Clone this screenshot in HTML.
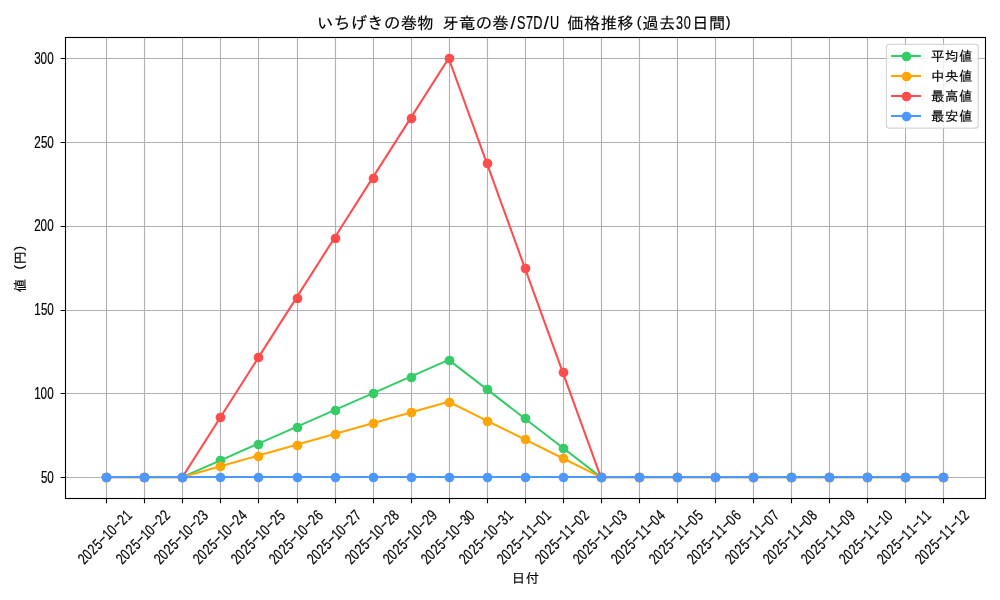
<!DOCTYPE html>
<html lang="ja"><head><meta charset="utf-8"><title>いちげきの巻物 牙竜の巻/S7D/U 価格推移(過去30日間)</title>
<style>
html,body{margin:0;padding:0;background:#fff;}
body{width:1000px;height:600px;overflow:hidden;}
svg{display:block;}
text{font-family:"Liberation Sans", "IPAGothic", sans-serif;fill:#000;}
text.j{stroke:#000;stroke-width:0.15;}
text.l{stroke:#000;stroke-width:0.2;}
</style></head><body>
<svg width="1000" height="600" viewBox="0 0 1000 600">
<rect width="1000" height="600" fill="#fff"/>
<defs><clipPath id="ax"><rect x="64.5" y="37.3" width="920.5" height="460.75"/></clipPath></defs>
<g clip-path="url(#ax)">
<g stroke="#b0b0b0" stroke-width="1.11" fill="none">
<path d="M106.5 37.3V498.05M144.5 37.3V498.05M182.5 37.3V498.05M220.5 37.3V498.05M258.5 37.3V498.05M297.5 37.3V498.05M335.5 37.3V498.05M373.5 37.3V498.05M411.5 37.3V498.05M449.5 37.3V498.05M487.5 37.3V498.05M525.5 37.3V498.05M563.5 37.3V498.05M601.5 37.3V498.05M639.5 37.3V498.05M677.5 37.3V498.05M715.5 37.3V498.05M753.5 37.3V498.05M791.5 37.3V498.05M829.5 37.3V498.05M867.5 37.3V498.05M905.5 37.3V498.05M943.5 37.3V498.05M64.5 477.5H985M64.5 393.5H985M64.5 310.5H985M64.5 226.5H985M64.5 142.5H985M64.5 58.5H985"/>
</g>
<polyline points="182.41,477.11 220.45,460.35 258.49,443.6 296.52,426.84 334.56,410.09 372.6,393.33 410.64,376.58 448.67,359.83 486.71,389.15 524.75,418.47 562.78,447.79 600.82,477.11" fill="none" stroke="#35CC68" stroke-width="2.08" stroke-linejoin="round" stroke-linecap="round"/>
<rect x="106.34" y="478" width="76.07" height="1" fill="#35CC68" fill-opacity="0.15"/>
<rect x="600.82" y="478" width="342.33" height="1" fill="#35CC68" fill-opacity="0.15"/>
<g fill="#35CC68"><circle cx="106.5" cy="477.5" r="4.86"/><circle cx="144.5" cy="477.5" r="4.86"/><circle cx="182.5" cy="477.5" r="4.86"/><circle cx="220.5" cy="460.5" r="4.86"/><circle cx="258.5" cy="444.5" r="4.86"/><circle cx="297.5" cy="427.5" r="4.86"/><circle cx="335.5" cy="410.5" r="4.86"/><circle cx="373.5" cy="393.5" r="4.86"/><circle cx="411.5" cy="377.5" r="4.86"/><circle cx="449.5" cy="360.5" r="4.86"/><circle cx="487.5" cy="389.5" r="4.86"/><circle cx="525.5" cy="418.5" r="4.86"/><circle cx="563.5" cy="448.5" r="4.86"/><circle cx="601.5" cy="477.5" r="4.86"/><circle cx="639.5" cy="477.5" r="4.86"/><circle cx="677.5" cy="477.5" r="4.86"/><circle cx="715.5" cy="477.5" r="4.86"/><circle cx="753.5" cy="477.5" r="4.86"/><circle cx="791.5" cy="477.5" r="4.86"/><circle cx="829.5" cy="477.5" r="4.86"/><circle cx="867.5" cy="477.5" r="4.86"/><circle cx="905.5" cy="477.5" r="4.86"/><circle cx="943.5" cy="477.5" r="4.86"/></g>
<polyline points="182.41,477.11 220.45,466.34 258.49,455.57 296.52,444.79 334.56,434.02 372.6,423.25 410.64,412.48 448.67,401.71 486.71,420.56 524.75,439.41 562.78,458.26 600.82,477.11" fill="none" stroke="#FFA500" stroke-width="2.08" stroke-linejoin="round" stroke-linecap="round"/>
<rect x="106.34" y="478" width="76.07" height="1" fill="#FFA500" fill-opacity="0.15"/>
<rect x="600.82" y="478" width="342.33" height="1" fill="#FFA500" fill-opacity="0.15"/>
<g fill="#FFA500"><circle cx="106.5" cy="477.5" r="4.86"/><circle cx="144.5" cy="477.5" r="4.86"/><circle cx="182.5" cy="477.5" r="4.86"/><circle cx="220.5" cy="466.5" r="4.86"/><circle cx="258.5" cy="456.5" r="4.86"/><circle cx="297.5" cy="445.5" r="4.86"/><circle cx="335.5" cy="434.5" r="4.86"/><circle cx="373.5" cy="423.5" r="4.86"/><circle cx="411.5" cy="412.5" r="4.86"/><circle cx="449.5" cy="402.5" r="4.86"/><circle cx="487.5" cy="421.5" r="4.86"/><circle cx="525.5" cy="439.5" r="4.86"/><circle cx="563.5" cy="458.5" r="4.86"/><circle cx="601.5" cy="477.5" r="4.86"/><circle cx="639.5" cy="477.5" r="4.86"/><circle cx="677.5" cy="477.5" r="4.86"/><circle cx="715.5" cy="477.5" r="4.86"/><circle cx="753.5" cy="477.5" r="4.86"/><circle cx="791.5" cy="477.5" r="4.86"/><circle cx="829.5" cy="477.5" r="4.86"/><circle cx="867.5" cy="477.5" r="4.86"/><circle cx="905.5" cy="477.5" r="4.86"/><circle cx="943.5" cy="477.5" r="4.86"/></g>
<polyline points="182.41,477.11 220.45,417.27 258.49,357.43 296.52,297.59 334.56,237.76 372.6,177.92 410.64,118.08 448.67,58.24 486.71,162.96 524.75,267.68 562.78,372.39 600.82,477.11" fill="none" stroke="#FF4D4D" stroke-width="2.08" stroke-linejoin="round" stroke-linecap="round"/>
<rect x="106.34" y="478" width="76.07" height="1" fill="#FF4D4D" fill-opacity="0.15"/>
<rect x="600.82" y="478" width="342.33" height="1" fill="#FF4D4D" fill-opacity="0.15"/>
<g fill="#FF4D4D"><circle cx="106.5" cy="477.5" r="4.86"/><circle cx="144.5" cy="477.5" r="4.86"/><circle cx="182.5" cy="477.5" r="4.86"/><circle cx="220.5" cy="417.5" r="4.86"/><circle cx="258.5" cy="357.5" r="4.86"/><circle cx="297.5" cy="298.5" r="4.86"/><circle cx="335.5" cy="238.5" r="4.86"/><circle cx="373.5" cy="178.5" r="4.86"/><circle cx="411.5" cy="118.5" r="4.86"/><circle cx="449.5" cy="58.5" r="4.86"/><circle cx="487.5" cy="163.5" r="4.86"/><circle cx="525.5" cy="268.5" r="4.86"/><circle cx="563.5" cy="372.5" r="4.86"/><circle cx="601.5" cy="477.5" r="4.86"/><circle cx="639.5" cy="477.5" r="4.86"/><circle cx="677.5" cy="477.5" r="4.86"/><circle cx="715.5" cy="477.5" r="4.86"/><circle cx="753.5" cy="477.5" r="4.86"/><circle cx="791.5" cy="477.5" r="4.86"/><circle cx="829.5" cy="477.5" r="4.86"/><circle cx="867.5" cy="477.5" r="4.86"/><circle cx="905.5" cy="477.5" r="4.86"/><circle cx="943.5" cy="477.5" r="4.86"/></g>
<polyline points="106,477 144,477 182,477 220,477 258,477 297,477 335,477 373,477 411,477 449,477 487,477 525,477 563,477 601,477 639,477 677,477 715,477 753,477 791,477 829,477 867,477 905,477 943,477" fill="none" stroke="#4D98FF" stroke-width="2.08" stroke-linejoin="round" stroke-linecap="square"/>
<g fill="#4D98FF"><circle cx="106.5" cy="477.5" r="4.86"/><circle cx="144.5" cy="477.5" r="4.86"/><circle cx="182.5" cy="477.5" r="4.86"/><circle cx="220.5" cy="477.5" r="4.86"/><circle cx="258.5" cy="477.5" r="4.86"/><circle cx="297.5" cy="477.5" r="4.86"/><circle cx="335.5" cy="477.5" r="4.86"/><circle cx="373.5" cy="477.5" r="4.86"/><circle cx="411.5" cy="477.5" r="4.86"/><circle cx="449.5" cy="477.5" r="4.86"/><circle cx="487.5" cy="477.5" r="4.86"/><circle cx="525.5" cy="477.5" r="4.86"/><circle cx="563.5" cy="477.5" r="4.86"/><circle cx="601.5" cy="477.5" r="4.86"/><circle cx="639.5" cy="477.5" r="4.86"/><circle cx="677.5" cy="477.5" r="4.86"/><circle cx="715.5" cy="477.5" r="4.86"/><circle cx="753.5" cy="477.5" r="4.86"/><circle cx="791.5" cy="477.5" r="4.86"/><circle cx="829.5" cy="477.5" r="4.86"/><circle cx="867.5" cy="477.5" r="4.86"/><circle cx="905.5" cy="477.5" r="4.86"/><circle cx="943.5" cy="477.5" r="4.86"/></g>
</g>
<path d="M106.5 498.5v4.86M144.5 498.5v4.86M182.5 498.5v4.86M220.5 498.5v4.86M258.5 498.5v4.86M297.5 498.5v4.86M335.5 498.5v4.86M373.5 498.5v4.86M411.5 498.5v4.86M449.5 498.5v4.86M487.5 498.5v4.86M525.5 498.5v4.86M563.5 498.5v4.86M601.5 498.5v4.86M639.5 498.5v4.86M677.5 498.5v4.86M715.5 498.5v4.86M753.5 498.5v4.86M791.5 498.5v4.86M829.5 498.5v4.86M867.5 498.5v4.86M905.5 498.5v4.86M943.5 498.5v4.86M65.5 477.5h-4.86M65.5 393.5h-4.86M65.5 310.5h-4.86M65.5 226.5h-4.86M65.5 142.5h-4.86M65.5 58.5h-4.86" stroke="#000" stroke-width="1.11" fill="none"/>
<rect x="65.5" y="37.5" width="920" height="461" fill="none" stroke="#000" stroke-width="1.11" stroke-linejoin="miter"/>
<g id="yticks">
<text class="l" transform="translate(40.92 482.95) scale(0.75 1)" x="4.54 12.94" y="0" font-size="15.56" text-anchor="middle">50</text>
<text class="l" transform="translate(34.11 398.95) scale(0.75 1)" x="4.54 12.94 22.02" y="0" font-size="15.56" text-anchor="middle">100</text>
<text class="l" transform="translate(34.11 314.95) scale(0.75 1)" x="4.54 13.61 22.02" y="0" font-size="15.56" text-anchor="middle">150</text>
<text class="l" transform="translate(34.11 230.95) scale(0.75 1)" x="4.54 12.94 22.02" y="0" font-size="15.56" text-anchor="middle">200</text>
<text class="l" transform="translate(34.11 147.95) scale(0.75 1)" x="4.54 13.61 22.02" y="0" font-size="15.56" text-anchor="middle">250</text>
<text class="l" transform="translate(34.11 63.95) scale(0.75 1)" x="4.54 12.94 22.02" y="0" font-size="15.56" text-anchor="middle">300</text>
</g>
<g id="xticks">
<g transform="translate(84.05 565.22) rotate(-45)"><text class="l" transform="translate(0 0) scale(0.75 1)" x="4.63 13.22 23.15 32.41 41.67 50.93 59.52 69.44 78.7 87.96" y="0 0 0 0 -1.4 0 0 -1.4 0 0" font-size="15.56" text-anchor="middle">2025<tspan textLength="10.93" lengthAdjust="spacingAndGlyphs">-</tspan>10<tspan textLength="10.93" lengthAdjust="spacingAndGlyphs">-</tspan>21</text></g>
<g transform="translate(122.05 565.22) rotate(-45)"><text class="l" transform="translate(0 0) scale(0.75 1)" x="4.63 13.22 23.15 32.41 41.67 50.93 59.52 69.44 78.7 87.96" y="0 0 0 0 -1.4 0 0 -1.4 0 0" font-size="15.56" text-anchor="middle">2025<tspan textLength="10.93" lengthAdjust="spacingAndGlyphs">-</tspan>10<tspan textLength="10.93" lengthAdjust="spacingAndGlyphs">-</tspan>22</text></g>
<g transform="translate(160.05 565.22) rotate(-45)"><text class="l" transform="translate(0 0) scale(0.75 1)" x="4.63 13.22 23.15 32.41 41.67 50.93 59.52 69.44 78.7 87.96" y="0 0 0 0 -1.4 0 0 -1.4 0 0" font-size="15.56" text-anchor="middle">2025<tspan textLength="10.93" lengthAdjust="spacingAndGlyphs">-</tspan>10<tspan textLength="10.93" lengthAdjust="spacingAndGlyphs">-</tspan>23</text></g>
<g transform="translate(199.05 565.22) rotate(-45)"><text class="l" transform="translate(0 0) scale(0.75 1)" x="4.63 13.22 23.15 32.41 41.67 50.93 59.52 69.44 78.7 87.96" y="0 0 0 0 -1.4 0 0 -1.4 0 0" font-size="15.56" text-anchor="middle">2025<tspan textLength="10.93" lengthAdjust="spacingAndGlyphs">-</tspan>10<tspan textLength="10.93" lengthAdjust="spacingAndGlyphs">-</tspan>24</text></g>
<g transform="translate(237.05 565.22) rotate(-45)"><text class="l" transform="translate(0 0) scale(0.75 1)" x="4.63 13.22 23.15 32.41 41.67 50.93 59.52 69.44 78.7 87.96" y="0 0 0 0 -1.4 0 0 -1.4 0 0" font-size="15.56" text-anchor="middle">2025<tspan textLength="10.93" lengthAdjust="spacingAndGlyphs">-</tspan>10<tspan textLength="10.93" lengthAdjust="spacingAndGlyphs">-</tspan>25</text></g>
<g transform="translate(275.05 565.22) rotate(-45)"><text class="l" transform="translate(0 0) scale(0.75 1)" x="4.63 13.22 23.15 32.41 41.67 50.93 59.52 69.44 78.7 87.96" y="0 0 0 0 -1.4 0 0 -1.4 0 0" font-size="15.56" text-anchor="middle">2025<tspan textLength="10.93" lengthAdjust="spacingAndGlyphs">-</tspan>10<tspan textLength="10.93" lengthAdjust="spacingAndGlyphs">-</tspan>26</text></g>
<g transform="translate(313.05 565.22) rotate(-45)"><text class="l" transform="translate(0 0) scale(0.75 1)" x="4.63 13.22 23.15 32.41 41.67 50.93 59.52 69.44 78.7 87.96" y="0 0 0 0 -1.4 0 0 -1.4 0 0" font-size="15.56" text-anchor="middle">2025<tspan textLength="10.93" lengthAdjust="spacingAndGlyphs">-</tspan>10<tspan textLength="10.93" lengthAdjust="spacingAndGlyphs">-</tspan>27</text></g>
<g transform="translate(351.05 565.22) rotate(-45)"><text class="l" transform="translate(0 0) scale(0.75 1)" x="4.63 13.22 23.15 32.41 41.67 50.93 59.52 69.44 78.7 87.96" y="0 0 0 0 -1.4 0 0 -1.4 0 0" font-size="15.56" text-anchor="middle">2025<tspan textLength="10.93" lengthAdjust="spacingAndGlyphs">-</tspan>10<tspan textLength="10.93" lengthAdjust="spacingAndGlyphs">-</tspan>28</text></g>
<g transform="translate(389.05 565.22) rotate(-45)"><text class="l" transform="translate(0 0) scale(0.75 1)" x="4.63 13.22 23.15 32.41 41.67 50.93 59.52 69.44 78.7 87.96" y="0 0 0 0 -1.4 0 0 -1.4 0 0" font-size="15.56" text-anchor="middle">2025<tspan textLength="10.93" lengthAdjust="spacingAndGlyphs">-</tspan>10<tspan textLength="10.93" lengthAdjust="spacingAndGlyphs">-</tspan>29</text></g>
<g transform="translate(427.05 565.22) rotate(-45)"><text class="l" transform="translate(0 0) scale(0.75 1)" x="4.63 13.22 23.15 32.41 41.67 50.93 59.52 69.44 78.7 87.3" y="0 0 0 0 -1.4 0 0 -1.4 0 0" font-size="15.56" text-anchor="middle">2025<tspan textLength="10.93" lengthAdjust="spacingAndGlyphs">-</tspan>10<tspan textLength="10.93" lengthAdjust="spacingAndGlyphs">-</tspan>30</text></g>
<g transform="translate(465.05 565.22) rotate(-45)"><text class="l" transform="translate(0 0) scale(0.75 1)" x="4.63 13.22 23.15 32.41 41.67 50.93 59.52 69.44 78.7 87.96" y="0 0 0 0 -1.4 0 0 -1.4 0 0" font-size="15.56" text-anchor="middle">2025<tspan textLength="10.93" lengthAdjust="spacingAndGlyphs">-</tspan>10<tspan textLength="10.93" lengthAdjust="spacingAndGlyphs">-</tspan>31</text></g>
<g transform="translate(503.05 565.22) rotate(-45)"><text class="l" transform="translate(0 0) scale(0.75 1)" x="4.63 13.22 23.15 32.41 41.67 50.93 60.19 69.44 78.04 87.96" y="0 0 0 0 -1.4 0 0 -1.4 0 0" font-size="15.56" text-anchor="middle">2025<tspan textLength="10.93" lengthAdjust="spacingAndGlyphs">-</tspan>11<tspan textLength="10.93" lengthAdjust="spacingAndGlyphs">-</tspan>01</text></g>
<g transform="translate(541.05 565.22) rotate(-45)"><text class="l" transform="translate(0 0) scale(0.75 1)" x="4.63 13.22 23.15 32.41 41.67 50.93 60.19 69.44 78.04 87.96" y="0 0 0 0 -1.4 0 0 -1.4 0 0" font-size="15.56" text-anchor="middle">2025<tspan textLength="10.93" lengthAdjust="spacingAndGlyphs">-</tspan>11<tspan textLength="10.93" lengthAdjust="spacingAndGlyphs">-</tspan>02</text></g>
<g transform="translate(579.05 565.22) rotate(-45)"><text class="l" transform="translate(0 0) scale(0.75 1)" x="4.63 13.22 23.15 32.41 41.67 50.93 60.19 69.44 78.04 87.96" y="0 0 0 0 -1.4 0 0 -1.4 0 0" font-size="15.56" text-anchor="middle">2025<tspan textLength="10.93" lengthAdjust="spacingAndGlyphs">-</tspan>11<tspan textLength="10.93" lengthAdjust="spacingAndGlyphs">-</tspan>03</text></g>
<g transform="translate(617.05 565.22) rotate(-45)"><text class="l" transform="translate(0 0) scale(0.75 1)" x="4.63 13.22 23.15 32.41 41.67 50.93 60.19 69.44 78.04 87.96" y="0 0 0 0 -1.4 0 0 -1.4 0 0" font-size="15.56" text-anchor="middle">2025<tspan textLength="10.93" lengthAdjust="spacingAndGlyphs">-</tspan>11<tspan textLength="10.93" lengthAdjust="spacingAndGlyphs">-</tspan>04</text></g>
<g transform="translate(655.05 565.22) rotate(-45)"><text class="l" transform="translate(0 0) scale(0.75 1)" x="4.63 13.22 23.15 32.41 41.67 50.93 60.19 69.44 78.04 87.96" y="0 0 0 0 -1.4 0 0 -1.4 0 0" font-size="15.56" text-anchor="middle">2025<tspan textLength="10.93" lengthAdjust="spacingAndGlyphs">-</tspan>11<tspan textLength="10.93" lengthAdjust="spacingAndGlyphs">-</tspan>05</text></g>
<g transform="translate(693.05 565.22) rotate(-45)"><text class="l" transform="translate(0 0) scale(0.75 1)" x="4.63 13.22 23.15 32.41 41.67 50.93 60.19 69.44 78.04 87.96" y="0 0 0 0 -1.4 0 0 -1.4 0 0" font-size="15.56" text-anchor="middle">2025<tspan textLength="10.93" lengthAdjust="spacingAndGlyphs">-</tspan>11<tspan textLength="10.93" lengthAdjust="spacingAndGlyphs">-</tspan>06</text></g>
<g transform="translate(731.05 565.22) rotate(-45)"><text class="l" transform="translate(0 0) scale(0.75 1)" x="4.63 13.22 23.15 32.41 41.67 50.93 60.19 69.44 78.04 87.96" y="0 0 0 0 -1.4 0 0 -1.4 0 0" font-size="15.56" text-anchor="middle">2025<tspan textLength="10.93" lengthAdjust="spacingAndGlyphs">-</tspan>11<tspan textLength="10.93" lengthAdjust="spacingAndGlyphs">-</tspan>07</text></g>
<g transform="translate(769.05 565.22) rotate(-45)"><text class="l" transform="translate(0 0) scale(0.75 1)" x="4.63 13.22 23.15 32.41 41.67 50.93 60.19 69.44 78.04 87.96" y="0 0 0 0 -1.4 0 0 -1.4 0 0" font-size="15.56" text-anchor="middle">2025<tspan textLength="10.93" lengthAdjust="spacingAndGlyphs">-</tspan>11<tspan textLength="10.93" lengthAdjust="spacingAndGlyphs">-</tspan>08</text></g>
<g transform="translate(807.05 565.22) rotate(-45)"><text class="l" transform="translate(0 0) scale(0.75 1)" x="4.63 13.22 23.15 32.41 41.67 50.93 60.19 69.44 78.04 87.96" y="0 0 0 0 -1.4 0 0 -1.4 0 0" font-size="15.56" text-anchor="middle">2025<tspan textLength="10.93" lengthAdjust="spacingAndGlyphs">-</tspan>11<tspan textLength="10.93" lengthAdjust="spacingAndGlyphs">-</tspan>09</text></g>
<g transform="translate(845.05 565.22) rotate(-45)"><text class="l" transform="translate(0 0) scale(0.75 1)" x="4.63 13.22 23.15 32.41 41.67 50.93 60.19 69.44 78.7 87.3" y="0 0 0 0 -1.4 0 0 -1.4 0 0" font-size="15.56" text-anchor="middle">2025<tspan textLength="10.93" lengthAdjust="spacingAndGlyphs">-</tspan>11<tspan textLength="10.93" lengthAdjust="spacingAndGlyphs">-</tspan>10</text></g>
<g transform="translate(883.05 565.22) rotate(-45)"><text class="l" transform="translate(0 0) scale(0.75 1)" x="4.63 13.22 23.15 32.41 41.67 50.93 60.19 69.44 78.7 87.96" y="0 0 0 0 -1.4 0 0 -1.4 0 0" font-size="15.56" text-anchor="middle">2025<tspan textLength="10.93" lengthAdjust="spacingAndGlyphs">-</tspan>11<tspan textLength="10.93" lengthAdjust="spacingAndGlyphs">-</tspan>11</text></g>
<g transform="translate(921.05 565.22) rotate(-45)"><text class="l" transform="translate(0 0) scale(0.75 1)" x="4.63 13.22 23.15 32.41 41.67 50.93 60.19 69.44 78.7 87.96" y="0 0 0 0 -1.4 0 0 -1.4 0 0" font-size="15.56" text-anchor="middle">2025<tspan textLength="10.93" lengthAdjust="spacingAndGlyphs">-</tspan>11<tspan textLength="10.93" lengthAdjust="spacingAndGlyphs">-</tspan>12</text></g>
</g>
<text class="j" x="511.8 525.69" y="582.6" font-size="13.89"><tspan font-size="13.4">日付</tspan></text>
<g transform="translate(25 268.28) rotate(-90)"><text class="j" x="-24.06" y="0" font-size="13.89"><tspan font-size="13.4">値</tspan></text> <text class="l" transform="translate(-3.47 0) scale(0.75 1)" x="6.1" y="-2.1" font-size="15.56" text-anchor="middle"><tspan font-size="13.22" textLength="6.13" lengthAdjust="spacingAndGlyphs">(</tspan></text><text class="j" x="3.72" y="0" font-size="13.89"><tspan font-size="13.4">円</tspan></text><text class="l" transform="translate(17.36 0) scale(0.75 1)" x="3.7" y="-2.1" font-size="15.56" text-anchor="middle"><tspan font-size="13.22" textLength="6.13" lengthAdjust="spacingAndGlyphs">)</tspan></text></g>
<g id="title"><text class="j" x="317.11 333.78 350.45 367.11 383.78 400.66 417.32" y="28.72" font-size="16.67">いちげきの<tspan font-size="16.25">巻物</tspan></text> <text class="j" x="442.32 458.99 475.45 492.32" y="28.72" font-size="16.67"><tspan font-size="16.25">牙竜</tspan>の<tspan font-size="16.25">巻</tspan></text><text class="l" transform="translate(508.78 28.72) scale(0.68 1)" x="6.13 18.38 30.64 42.89 55.15 67.4" y="0" font-size="18.67" text-anchor="middle"><tspan textLength="7.41" lengthAdjust="spacingAndGlyphs">/</tspan>S7D<tspan textLength="7.41" lengthAdjust="spacingAndGlyphs">/</tspan>U</text> <text class="j" x="567.33 583.99 600.66 617.33" y="28.72" font-size="16.67"><tspan font-size="16.25">価格推移</tspan></text><text class="l" transform="translate(633.79 28.72) scale(0.68 1)" x="8.07" y="-1.72" font-size="18.67" text-anchor="middle"><tspan font-size="15.12" textLength="7.06" lengthAdjust="spacingAndGlyphs">(</tspan></text><text class="j" x="642.33 658.99" y="28.72" font-size="16.67"><tspan font-size="16.25">過去</tspan></text><text class="l" transform="translate(675.45 28.72) scale(0.68 1)" x="6.13 17.5" y="0" font-size="18.67" text-anchor="middle">30</text><text class="j" x="692.33 709" y="28.72" font-size="16.67"><tspan font-size="16.25">日間</tspan></text><text class="l" transform="translate(725.45 28.72) scale(0.68 1)" x="3.83" y="-1.72" font-size="18.67" text-anchor="middle"><tspan font-size="15.12" textLength="7.06" lengthAdjust="spacingAndGlyphs">)</tspan></text></g>
<g id="legend">
<rect x="886.43" y="44.25" width="91.82" height="83.77" rx="2.78" ry="2.78" fill="#fff" fill-opacity="0.8" stroke="#ccc" stroke-opacity="0.8" stroke-width="1.25"/>
<path d="M892 56H920" stroke="#35CC68" stroke-width="2.08" stroke-linecap="square" fill="none"/>
<circle cx="906.5" cy="56.5" r="4.86" fill="#35CC68"/>
<text class="j" x="931.12 945.01 958.9" y="61.21" font-size="13.89"><tspan font-size="13.4">平均値</tspan></text>
<path d="M892 76H920" stroke="#FFA500" stroke-width="2.08" stroke-linecap="square" fill="none"/>
<circle cx="906.5" cy="76.5" r="4.86" fill="#FFA500"/>
<text class="j" x="931.12 945.01 958.9" y="81.15" font-size="13.89"><tspan font-size="13.4">中央値</tspan></text>
<path d="M892 96H920" stroke="#FF4D4D" stroke-width="2.08" stroke-linecap="square" fill="none"/>
<circle cx="906.5" cy="96.5" r="4.86" fill="#FF4D4D"/>
<text class="j" x="931.12 945.01 958.9" y="101.14" font-size="13.89"><tspan font-size="13.4">最高値</tspan></text>
<path d="M892 116H920" stroke="#4D98FF" stroke-width="2.08" stroke-linecap="square" fill="none"/>
<circle cx="906.5" cy="116.5" r="4.86" fill="#4D98FF"/>
<text class="j" x="931.12 945.01 958.9" y="121.28" font-size="13.89"><tspan font-size="13.4">最安値</tspan></text>
</g>
</svg>
</body></html>
